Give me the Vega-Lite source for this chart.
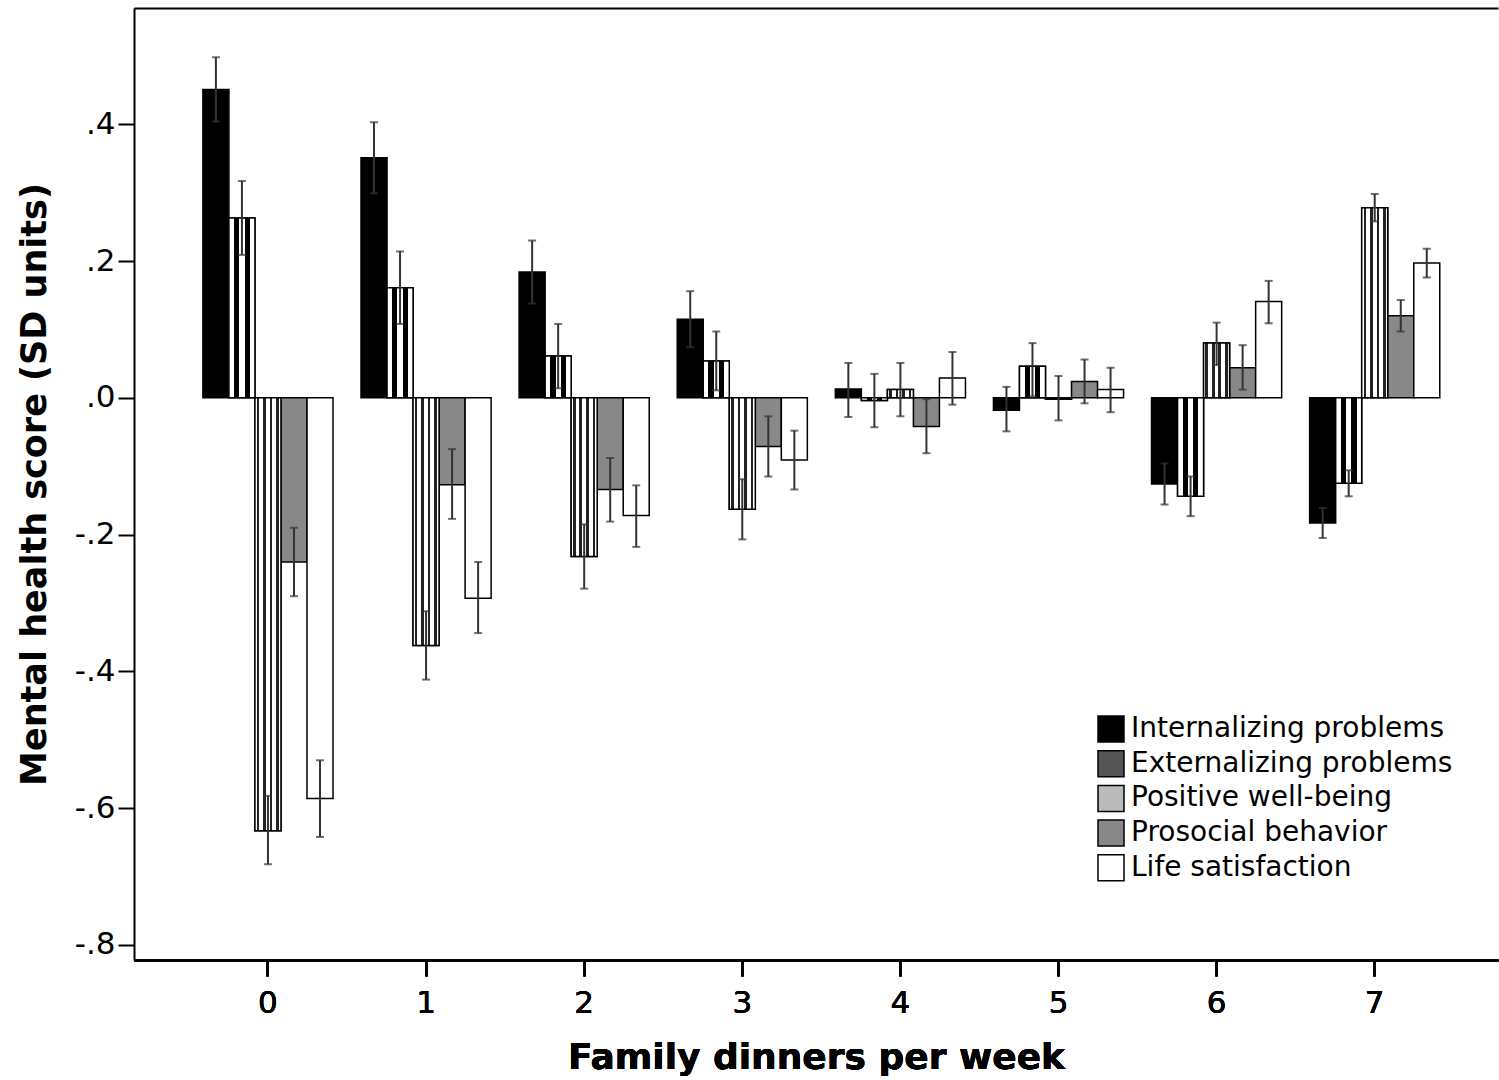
{
  "$schema": "https://vega.github.io/schema/vega-lite/v6.json",
  "width": 1364,
  "height": 952,
  "autosize": {"type": "none"},
  "padding": {"left": 134, "top": 8, "right": 1, "bottom": 120},
  "background": "white",
  "config": {
    "view": {"stroke": null},
    "font": "DejaVu Sans",
    "axis": {"domainColor": "#000000", "domainWidth": 2, "tickColor": "#000000", "tickWidth": 2, "labelColor": "#000000", "titleColor": "#000000", "labelFont": "DejaVu Sans", "titleFont": "DejaVu Sans", "grid": false}
  },
  "data": {
    "values": [
      {"dinners": "0", "measure": "Internalizing problems", "value": 0.451, "lo": 0.404, "hi": 0.498},
      {"dinners": "0", "measure": "Externalizing problems", "value": 0.263, "lo": 0.209, "hi": 0.317},
      {"dinners": "0", "measure": "Positive well-being", "value": -0.633, "lo": -0.682, "hi": -0.582},
      {"dinners": "0", "measure": "Prosocial behavior", "value": -0.240, "lo": -0.290, "hi": -0.190},
      {"dinners": "0", "measure": "Life satisfaction", "value": -0.586, "lo": -0.642, "hi": -0.530},
      {"dinners": "1", "measure": "Internalizing problems", "value": 0.351, "lo": 0.299, "hi": 0.403},
      {"dinners": "1", "measure": "Externalizing problems", "value": 0.161, "lo": 0.108, "hi": 0.214},
      {"dinners": "1", "measure": "Positive well-being", "value": -0.362, "lo": -0.412, "hi": -0.312},
      {"dinners": "1", "measure": "Prosocial behavior", "value": -0.127, "lo": -0.177, "hi": -0.075},
      {"dinners": "1", "measure": "Life satisfaction", "value": -0.293, "lo": -0.344, "hi": -0.240},
      {"dinners": "2", "measure": "Internalizing problems", "value": 0.184, "lo": 0.138, "hi": 0.230},
      {"dinners": "2", "measure": "Externalizing problems", "value": 0.061, "lo": 0.014, "hi": 0.108},
      {"dinners": "2", "measure": "Positive well-being", "value": -0.232, "lo": -0.279, "hi": -0.185},
      {"dinners": "2", "measure": "Prosocial behavior", "value": -0.134, "lo": -0.181, "hi": -0.088},
      {"dinners": "2", "measure": "Life satisfaction", "value": -0.172, "lo": -0.218, "hi": -0.128},
      {"dinners": "3", "measure": "Internalizing problems", "value": 0.115, "lo": 0.074, "hi": 0.156},
      {"dinners": "3", "measure": "Externalizing problems", "value": 0.054, "lo": 0.011, "hi": 0.097},
      {"dinners": "3", "measure": "Positive well-being", "value": -0.163, "lo": -0.207, "hi": -0.119},
      {"dinners": "3", "measure": "Prosocial behavior", "value": -0.071, "lo": -0.115, "hi": -0.027},
      {"dinners": "3", "measure": "Life satisfaction", "value": -0.091, "lo": -0.134, "hi": -0.048},
      {"dinners": "4", "measure": "Internalizing problems", "value": 0.013, "lo": -0.028, "hi": 0.051},
      {"dinners": "4", "measure": "Externalizing problems", "value": -0.004, "lo": -0.043, "hi": 0.035},
      {"dinners": "4", "measure": "Positive well-being", "value": 0.012, "lo": -0.027, "hi": 0.051},
      {"dinners": "4", "measure": "Prosocial behavior", "value": -0.042, "lo": -0.081, "hi": -0.002},
      {"dinners": "4", "measure": "Life satisfaction", "value": 0.029, "lo": -0.010, "hi": 0.067},
      {"dinners": "5", "measure": "Internalizing problems", "value": -0.018, "lo": -0.049, "hi": 0.016},
      {"dinners": "5", "measure": "Externalizing problems", "value": 0.046, "lo": 0.002, "hi": 0.080},
      {"dinners": "5", "measure": "Positive well-being", "value": -0.002, "lo": -0.033, "hi": 0.032},
      {"dinners": "5", "measure": "Prosocial behavior", "value": 0.024, "lo": -0.008, "hi": 0.056},
      {"dinners": "5", "measure": "Life satisfaction", "value": 0.012, "lo": -0.021, "hi": 0.044},
      {"dinners": "6", "measure": "Internalizing problems", "value": -0.126, "lo": -0.156, "hi": -0.096},
      {"dinners": "6", "measure": "Externalizing problems", "value": -0.144, "lo": -0.173, "hi": -0.115},
      {"dinners": "6", "measure": "Positive well-being", "value": 0.080, "lo": 0.048, "hi": 0.110},
      {"dinners": "6", "measure": "Prosocial behavior", "value": 0.044, "lo": 0.012, "hi": 0.077},
      {"dinners": "6", "measure": "Life satisfaction", "value": 0.141, "lo": 0.109, "hi": 0.171},
      {"dinners": "7", "measure": "Internalizing problems", "value": -0.183, "lo": -0.205, "hi": -0.161},
      {"dinners": "7", "measure": "Externalizing problems", "value": -0.125, "lo": -0.144, "hi": -0.106},
      {"dinners": "7", "measure": "Positive well-being", "value": 0.278, "lo": 0.258, "hi": 0.298},
      {"dinners": "7", "measure": "Prosocial behavior", "value": 0.120, "lo": 0.097, "hi": 0.143},
      {"dinners": "7", "measure": "Life satisfaction", "value": 0.197, "lo": 0.176, "hi": 0.218}
    ]
  },
  "encoding": {
    "x": {
      "field": "dinners", "type": "nominal",
      "scale": {"paddingInner": 0.177, "paddingOuter": 0.402, "align": 0.542},
      "axis": {"orient": "bottom", "title": "Family dinners per week", "labelAngle": 0, "labelFontSize": 31, "labelPadding": 12, "tickSize": 16, "titleFontSize": 36, "titleFontWeight": "bold", "titlePadding": 22}
    },
    "xOffset": {
      "field": "measure", "type": "nominal",
      "scale": {"domain": ["Internalizing problems", "Externalizing problems", "Positive well-being", "Prosocial behavior", "Life satisfaction"], "paddingInner": 0, "paddingOuter": 0}
    },
    "y": {
      "field": "value", "type": "quantitative",
      "scale": {"domain": [-0.822, 0.57], "nice": false, "zero": false},
      "axis": {"title": "Mental health score (SD units)", "values": [-0.8, -0.6, -0.4, -0.2, 0, 0.2, 0.4], "labelExpr": "replace(replace(format(datum.value, '.1f'), '0.', '.'), '\u2212', '-')", "labelFontSize": 31, "labelPadding": 3, "tickSize": 16, "titleFontSize": 35, "titleFontWeight": "bold", "titleX": -82}
    }
  },
  "layer": [
    {
      "mark": {"type": "bar", "strokeWidth": 1.5},
      "encoding": {
        "y2": {"datum": 0},
        "fill": {
          "field": "measure", "type": "nominal",
          "scale": {
            "domain": ["Internalizing problems", "Externalizing problems", "Positive well-being", "Prosocial behavior", "Life satisfaction"],
            "range": ["#000000", "#555555", "#bbbbbb", "#888888", "#ffffff"]
          },
          "legend": {
            "title": null, "orient": "none", "legendX": 963, "legendY": 707,
            "symbolType": "square", "symbolSize": 676, "symbolStrokeWidth": 1.5, "symbolOpacity": 1,
            "labelFontSize": 28, "labelFont": "DejaVu Sans", "labelColor": "#000000", "labelOffset": 6, "rowPadding": 2.7, "labelLimit": 500
          }
        },
        "stroke": {
          "field": "measure", "type": "nominal",
          "scale": {
            "domain": ["Internalizing problems", "Externalizing problems", "Positive well-being", "Prosocial behavior", "Life satisfaction"],
            "range": ["#000000", "#000000", "#000000", "#000000", "#000000"]
          },
          "legend": {
            "title": null, "orient": "none", "legendX": 963, "legendY": 707,
            "symbolType": "square", "symbolSize": 676, "symbolStrokeWidth": 1.5, "symbolOpacity": 1,
            "labelFontSize": 28, "labelFont": "DejaVu Sans", "labelColor": "#000000", "labelOffset": 6, "rowPadding": 2.7, "labelLimit": 500
          }
        }
      }
    },
    {
      "transform": [{"filter": "datum.measure === 'Externalizing problems'"}],
      "mark": {"type": "bar", "stroke": "#000000", "strokeWidth": 1.5, "fill": {"gradient": "linear", "x1": 0, "y1": 0, "x2": 1, "y2": 0, "stops": [
        {"offset": 0, "color": "#ffffff"}, {"offset": 0.2, "color": "#ffffff"},
        {"offset": 0.2, "color": "#000000"}, {"offset": 0.4, "color": "#000000"},
        {"offset": 0.4, "color": "#ffffff"}, {"offset": 0.6, "color": "#ffffff"},
        {"offset": 0.6, "color": "#000000"}, {"offset": 0.8, "color": "#000000"},
        {"offset": 0.8, "color": "#ffffff"}, {"offset": 1, "color": "#ffffff"}]}},
      "encoding": {"y2": {"datum": 0}}
    },
    {
      "transform": [{"filter": "datum.measure === 'Positive well-being'"}],
      "mark": {"type": "bar", "stroke": "#000000", "strokeWidth": 1.5, "fill": {"gradient": "linear", "x1": 0, "y1": 0, "x2": 1, "y2": 0, "stops": [
        {"offset": 0, "color": "#ffffff"}, {"offset": 0.07, "color": "#ffffff"},
        {"offset": 0.07, "color": "#222222"}, {"offset": 0.17, "color": "#222222"},
        {"offset": 0.17, "color": "#ffffff"}, {"offset": 0.32, "color": "#ffffff"},
        {"offset": 0.32, "color": "#222222"}, {"offset": 0.42, "color": "#222222"},
        {"offset": 0.42, "color": "#ffffff"}, {"offset": 0.57, "color": "#ffffff"},
        {"offset": 0.57, "color": "#222222"}, {"offset": 0.67, "color": "#222222"},
        {"offset": 0.67, "color": "#ffffff"}, {"offset": 0.82, "color": "#ffffff"},
        {"offset": 0.82, "color": "#222222"}, {"offset": 0.92, "color": "#222222"},
        {"offset": 0.92, "color": "#ffffff"}, {"offset": 1, "color": "#ffffff"}]}},
      "encoding": {"y2": {"datum": 0}}
    },
    {
      "mark": {"type": "rule", "color": "#333333", "strokeWidth": 2},
      "encoding": {
        "x": {"field": "dinners", "type": "nominal", "axis": {"orient": "top", "labels": false, "ticks": false, "title": null, "domainWidth": 2}},
        "y": {"field": "lo", "type": "quantitative"},
        "y2": {"field": "hi"}
      }
    },
    {
      "mark": {"type": "tick", "color": "#333333", "thickness": 2, "size": 8},
      "encoding": {"y": {"field": "lo", "type": "quantitative"}}
    },
    {
      "mark": {"type": "tick", "color": "#333333", "thickness": 2, "size": 8},
      "encoding": {"y": {"field": "hi", "type": "quantitative"}}
    }
  ]
}
